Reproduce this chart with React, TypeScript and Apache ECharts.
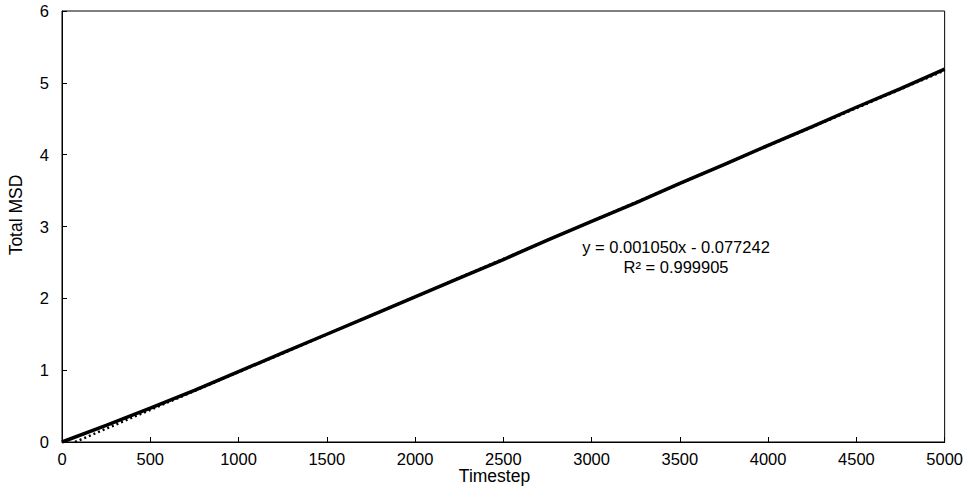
import React, { useEffect, useRef } from "react";
import * as echarts from "echarts";

const timesteps = [0, 250, 500, 750, 1000, 1250, 1500, 1750, 2000, 2250, 2500, 2750, 3000, 3250, 3500, 3750, 4000, 4250, 4500, 4750, 5000];
const msd = [0, 0.23, 0.47, 0.72, 0.98, 1.24, 1.5, 1.76, 2.02, 2.28, 2.54, 2.81, 3.07, 3.33, 3.6, 3.86, 4.13, 4.39, 4.66, 4.92, 5.19];
const trendX = [74, 5000];
const trendY = [0, 5.173];
const equationLines = ["y = 0.001050x - 0.077242", "R² = 0.999905"];

const FONT = "'Liberation Sans', Arial, sans-serif";

export default function App() {
  const ref = useRef<HTMLDivElement>(null);
  useEffect(() => {
    if (!ref.current) return;
    const chart = echarts.init(ref.current, undefined, { renderer: "svg" });
    chart.setOption({
      animation: false,
      backgroundColor: "#ffffff",
      grid: { left: 62, right: 21, top: 11, bottom: 48, show: true, borderColor: "#000", borderWidth: 1, backgroundColor: "transparent" },
      xAxis: {
        type: "value", min: 0, max: 5000, interval: 500,
        axisLine: { show: true, lineStyle: { color: "#000", width: 1 } },
        axisTick: { show: true, inside: true, length: 5, lineStyle: { color: "#000" } },
        axisLabel: { color: "#000", fontFamily: FONT, fontSize: 16.5, margin: 8, formatter: (v: number) => String(v) },
        splitLine: { show: false },
      },
      yAxis: {
        type: "value", min: 0, max: 6, interval: 1,
        axisLine: { show: true, lineStyle: { color: "#000", width: 1 } },
        axisTick: { show: true, inside: true, length: 5, lineStyle: { color: "#000" } },
        axisLabel: { color: "#000", fontFamily: FONT, fontSize: 16.5, margin: 13 },
        splitLine: { show: false },
      },
      series: [
        {
          type: "line",
          data: trendX.map((x, i) => [x, trendY[i]]),
          symbol: "none",
          lineStyle: { color: "#000", width: 2.5, type: [2, 3] },
          z: 2,
        },
        {
          type: "line",
          data: timesteps.map((x, i) => [x, msd[i]]),
          symbol: "none",
          lineStyle: { color: "#000", width: 3.5 },
          z: 3,
        },
      ],
      graphic: [
        { type: "text", x: 494.5, y: 467, style: { text: "Timestep", font: `17.5px ${FONT}`, fill: "#000", align: "center", verticalAlign: "top" } },
        { type: "text", x: 7, y: 215, rotation: Math.PI / 2, style: { text: "Total MSD", font: `17.5px ${FONT}`, fill: "#000", align: "center", verticalAlign: "top" } },
        { type: "text", x: 676, y: 238, style: { text: equationLines[0], font: `16.5px ${FONT}`, fill: "#000", align: "center", verticalAlign: "top" } },
        { type: "text", x: 676, y: 258, style: { text: equationLines[1], font: `16.5px ${FONT}`, fill: "#000", align: "center", verticalAlign: "top" } },
      ],
    });
    return () => chart.dispose();
  }, []);
  return <div ref={ref} style={{ position: "fixed", left: 0, top: 0, width: 966, height: 490 }} />;
}
